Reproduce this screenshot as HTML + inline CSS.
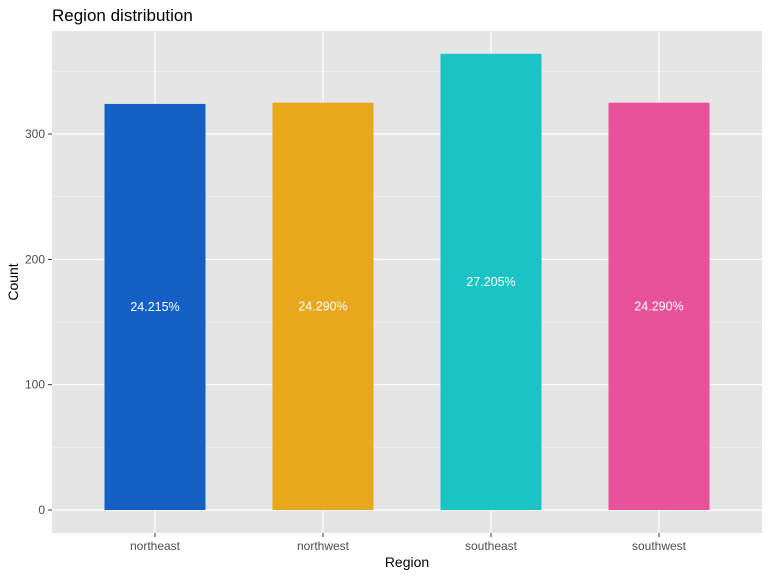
<!DOCTYPE html>
<html><head><meta charset="utf-8"><style>
body{margin:0;background:#fff;font-family:"Liberation Sans",Arial,sans-serif}
</style></head><body>
<svg id="chart" width="768" height="576" xmlns="http://www.w3.org/2000/svg" font-family="Liberation Sans, Arial, sans-serif">
<rect width="768" height="576" fill="#fff"/>
<text x="52" y="21" font-size="17" fill="#000">Region distribution</text>
<rect x="52" y="31" width="710" height="502" fill="#e5e5e5"/>
<g id="grid"></g><g id="bars"></g><g id="axes"></g>
<text x="407" y="567" font-size="14" text-anchor="middle">Region</text>
<text transform="translate(18,282) rotate(-90)" font-size="14" text-anchor="middle">Count</text>
</svg>
<script>
const categories=["northeast","northwest","southeast","southwest"];
const counts=[324,325,364,325];
const colors=["#1560c4","#e8a81c","#1bc4c4","#e8529a"];
const yTicks=[0,100,200,300];
const NS="http://www.w3.org/2000/svg";
const total=counts.reduce((a,b)=>a+b,0);
const y0=510,ppu=1.2533;
const y=v=>y0-v*ppu;
const x=i=>155+i*168;
const bw=101;
function mk(tag,attrs,parent){const e=document.createElementNS(NS,tag);for(const k in attrs)e.setAttribute(k,attrs[k]);parent.appendChild(e);return e;}
const grid=document.getElementById('grid'),bars=document.getElementById('bars'),axes=document.getElementById('axes');
for(let v=50;v<400;v+=100){if(y(v)>31){const l=mk('line',{x1:52,x2:762,y1:y(v),y2:y(v),stroke:'#f2f2f2','stroke-width':0.6},grid);}}
yTicks.forEach(v=>{
const l=mk('line',{x1:52,x2:762,y1:y(v),y2:y(v),stroke:'#fff','stroke-width':1.2},grid);


const t=mk('line',{x1:48,x2:52,y1:y(v),y2:y(v),stroke:'#333','stroke-width':1},axes);


const tx=mk('text',{x:45,y:y(v)+4,'font-size':12,'text-anchor':'end',fill:'#4d4d4d'},axes);
tx.textContent=v;


});
categories.forEach((c,i)=>{
const g=mk('line',{x1:x(i),x2:x(i),y1:31,y2:533,stroke:'#fff','stroke-width':1.2},grid);


const r=mk('rect',{x:x(i)-bw/2,y:y(counts[i]),width:bw,height:counts[i]*ppu,fill:colors[i]},bars);


const lb=mk('text',{x:x(i),y:y(counts[i]/2)+4,'font-size':12.5,'text-anchor':'middle',fill:'#fff'},bars);
lb.textContent=(counts[i]/total*100).toFixed(3)+'%';


const t=mk('line',{x1:x(i),x2:x(i),y1:533,y2:537,stroke:'#333','stroke-width':1},axes);


const tx=mk('text',{x:x(i),y:550,'font-size':12,'text-anchor':'middle',fill:'#4d4d4d'},axes);
tx.textContent=c;


});
</script>
</body></html>
